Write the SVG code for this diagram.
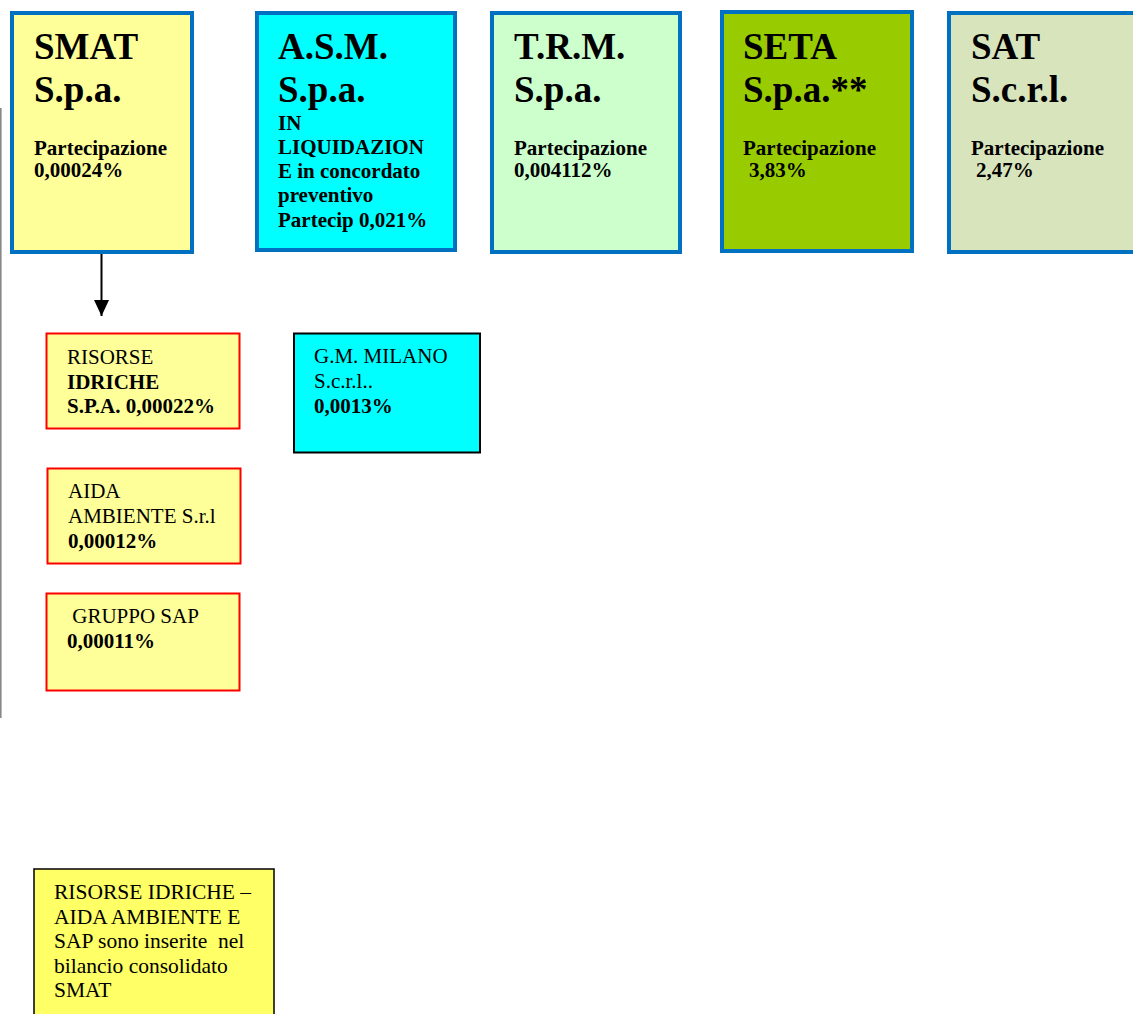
<svg xmlns="http://www.w3.org/2000/svg" width="1133" height="1014" viewBox="0 0 1133 1014">
<style>
  text { font-family: "Liberation Serif", "Times New Roman", serif; fill: #000; }
  .title { font-size: 37px; font-weight: bold; }
  .lbl { font-size: 21px; font-weight: bold; }
  .reg { font-size: 21px; }
  .note { font-size: 21.5px; }
  .b { font-weight: bold; }
  .top { stroke: #0070C0; stroke-width: 4; }
  .sub { stroke: #FF0000; stroke-width: 2; fill: #FFFF99; }
</style>
<defs>
  <marker id="arr" markerWidth="16" markerHeight="15" refX="16" refY="7.5" orient="auto" markerUnits="userSpaceOnUse" viewBox="0 0 16 15">
    <path d="M0,0 L16,7.5 L0,15 Z" fill="#000"/>
  </marker>
</defs>
<rect width="1133" height="1014" fill="#fff"/>
<line x1="0.8" y1="108" x2="0.8" y2="718" stroke="#888" stroke-width="1.6"/>

<g id="smat">
  <rect class="top" x="12" y="13" width="180" height="239" fill="#FFFF99"/>
  <text class="title" x="34" y="59">SMAT</text>
  <text class="title" x="34" y="102">S.p.a.</text>
  <text class="lbl" x="34" y="155">Partecipazione</text>
  <text class="lbl" x="34" y="177">0,00024%</text>
</g>
<g id="asm">
  <rect class="top" x="257" y="13" width="198" height="237" fill="#00FFFF"/>
  <text class="title" x="278" y="59">A.S.M.</text>
  <text class="title" x="278" y="102">S.p.a.</text>
  <text class="lbl" x="278" y="130">IN</text>
  <text class="lbl" x="278" y="154">LIQUIDAZION</text>
  <text class="lbl" x="278" y="178">E in concordato</text>
  <text class="lbl" x="278" y="202">preventivo</text>
  <text class="lbl" x="278" y="227">Partecip 0,021%</text>
</g>
<g id="trm">
  <rect class="top" x="492" y="13" width="188" height="239" fill="#CCFFCC"/>
  <text class="title" x="514" y="59">T.R.M.</text>
  <text class="title" x="514" y="102">S.p.a.</text>
  <text class="lbl" x="514" y="155">Partecipazione</text>
  <text class="lbl" x="514" y="177">0,004112%</text>
</g>
<g id="seta">
  <rect class="top" x="722" y="12" width="190" height="239" fill="#99CC00"/>
  <text class="title" x="743" y="59">SETA</text>
  <text class="title" x="743" y="102">S.p.a.**</text>
  <text class="lbl" x="743" y="155">Partecipazione</text>
  <text class="lbl" x="749" y="177">3,83%</text>
</g>
<g id="sat">
  <rect class="top" x="949" y="13" width="200" height="239" fill="#D8E4BC"/>
  <text class="title" x="971" y="59">SAT</text>
  <text class="title" x="971" y="102">S.c.r.l.</text>
  <text class="lbl" x="971" y="155">Partecipazione</text>
  <text class="lbl" x="976" y="177">2,47%</text>
</g>

<g id="connectors">
  <line x1="101.5" y1="254" x2="101.5" y2="316" stroke="#000" stroke-width="2" marker-end="url(#arr)"/>
</g>

<g id="risorse">
  <rect class="sub" x="46.5" y="333.5" width="193" height="95"/>
  <text class="reg" x="67" y="364">RISORSE</text>
  <text class="reg b" x="67" y="389">IDRICHE</text>
  <text class="reg b" x="67" y="413">S.P.A. 0,00022%</text>
</g>
<g id="gmmilano">
  <rect x="294" y="333.5" width="186" height="119" fill="#00FFFF" stroke="#000" stroke-width="2"/>
  <text class="reg" x="314" y="363">G.M. MILANO</text>
  <text class="reg" x="314" y="388">S.c.r.l..</text>
  <text class="reg b" x="314" y="413">0,0013%</text>
</g>
<g id="aida">
  <rect class="sub" x="47.5" y="468.5" width="193" height="95"/>
  <text class="reg" x="68" y="498">AIDA</text>
  <text class="reg" x="68" y="523">AMBIENTE S.r.l</text>
  <text class="reg b" x="68" y="548">0,00012%</text>
</g>
<g id="sap">
  <rect class="sub" x="46.5" y="593.5" width="193" height="97"/>
  <text class="reg" x="67" y="623" xml:space="preserve"> GRUPPO SAP</text>
  <text class="reg b" x="67" y="648">0,00011%</text>
</g>
<g id="note">
  <rect x="34" y="869" width="240" height="150" fill="#FFFF66" stroke="#000" stroke-width="1.5"/>
  <text class="note" x="54" y="899">RISORSE IDRICHE –</text>
  <text class="note" x="54" y="924">AIDA AMBIENTE E</text>
  <text class="note" x="54" y="948" xml:space="preserve">SAP sono inserite  nel</text>
  <text class="note" x="54" y="973">bilancio consolidato</text>
  <text class="note" x="54" y="997">SMAT</text>
</g>
</svg>
